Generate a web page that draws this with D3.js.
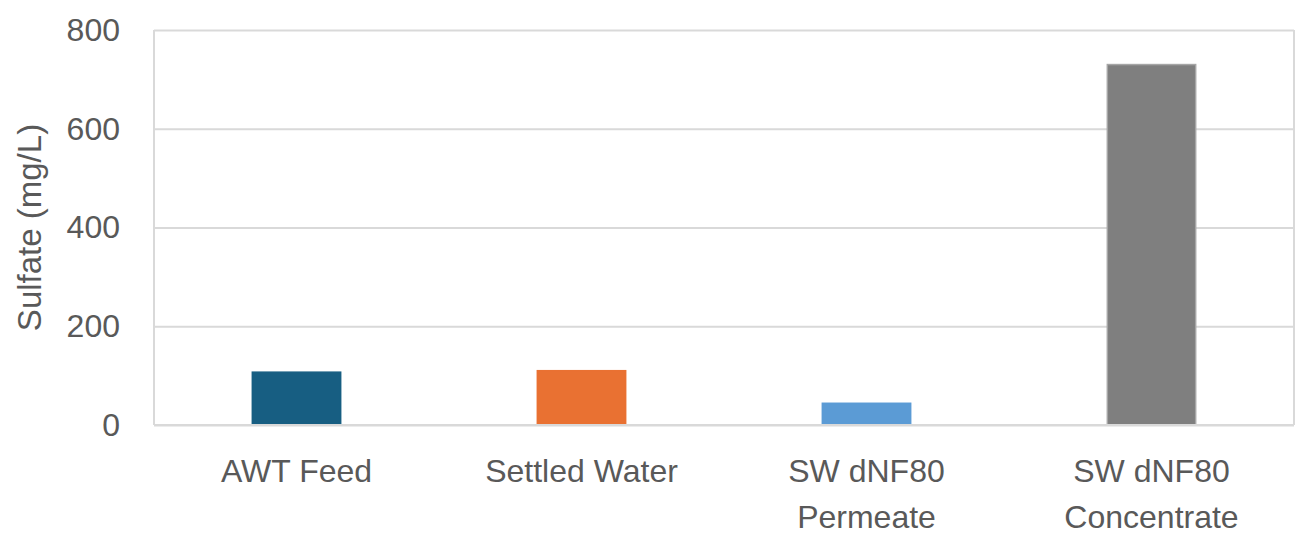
<!DOCTYPE html>
<html><head><meta charset="utf-8">
<script src="https://cdn.jsdelivr.net/npm/d3@7"></script>
<style>body{margin:0;background:#fff}svg{display:block}</style>
</head><body>
<svg id="c" width="1310" height="542"></svg>
<script>
const categories = [["AWT Feed"], ["Settled Water"], ["SW dNF80", "Permeate"], ["SW dNF80", "Concentrate"]];
const values = [107, 110, 44, 730];
const colors = ["#175E82", "#E97132", "#5B9BD5", "#7F7F7F"];
const strokes = ["#175E82", "#E97132", "#5B9BD5", "#A6A6A6"];
const yTicks = [0, 200, 400, 600, 800];
const yTitle = "Sulfate (mg/L)";

const svg = d3.select("#c");
const m = {l: 154, t: 30, r: 1294, b: 425};
const font = "'Liberation Sans', Arial, sans-serif";
const txt = "#595959";
const keys = categories.map(c => c.join(" "));
const x = d3.scaleBand().domain(keys).range([m.l, m.r]).paddingInner(0.69).paddingOuter(0.345);
const y = d3.scaleLinear().domain([0, 800]).range([m.b, m.t]);

// gridlines
const ga = svg.append("g").attr("transform", `translate(${m.l},0)`)
  .call(d3.axisLeft(y).tickValues(yTicks).tickSize(-(m.r - m.l)).tickFormat(""));
ga.select(".domain").remove();
ga.selectAll("line").attr("stroke", "#D9D9D9").attr("stroke-width", 2);
// plot border left/right
svg.append("line").attr("x1", m.l).attr("x2", m.l).attr("y1", m.t).attr("y2", m.b).attr("stroke", "#D9D9D9").attr("stroke-width", 2);
svg.append("line").attr("x1", m.r).attr("x2", m.r).attr("y1", m.t).attr("y2", m.b).attr("stroke", "#D9D9D9").attr("stroke-width", 2);

// y labels
const yl = svg.append("g").attr("transform", `translate(120,0)`)
  .call(d3.axisLeft(y).tickValues(yTicks).tickSize(0).tickPadding(0));
yl.select(".domain").remove();
yl.selectAll("text").attr("font-family", font).attr("font-size", 32).attr("fill", txt).attr("text-anchor", "end");

// bars
svg.append("g").selectAll("rect").data(values).join("rect")
  .attr("x", (d, i) => x(keys[i]))
  .attr("width", x.bandwidth())
  .attr("y", d => y(d))
  .attr("height", d => y(0) - y(d))
  .attr("fill", (d, i) => colors[i])
  .attr("stroke", (d, i) => strokes[i])
  .attr("stroke-width", 1.5);

// x axis line
svg.append("line").attr("x1", m.l).attr("x2", m.r).attr("y1", m.b).attr("y2", m.b).attr("stroke", "#D9D9D9").attr("stroke-width", 2);

// category labels
const cl = svg.append("g").selectAll("text").data(categories).join("text")
  .attr("x", (d, i) => x(keys[i]) + x.bandwidth() / 2)
  .attr("y", 482)
  .attr("text-anchor", "middle")
  .attr("font-family", font).attr("font-size", 32).attr("fill", txt);
cl.selectAll("tspan").data(d => d).join("tspan")
  .attr("x", function() { return this.parentNode.getAttribute("x"); })
  .attr("dy", (d, i) => i === 0 ? 0 : 46)
  .text(d => d);

// y title
svg.append("text")
  .attr("transform", `translate(41,${(m.t + m.b) / 2}) rotate(-90)`)
  .attr("text-anchor", "middle")
  .attr("font-family", font).attr("font-size", 33).attr("fill", txt)
  .text(yTitle);
</script>
</body></html>
